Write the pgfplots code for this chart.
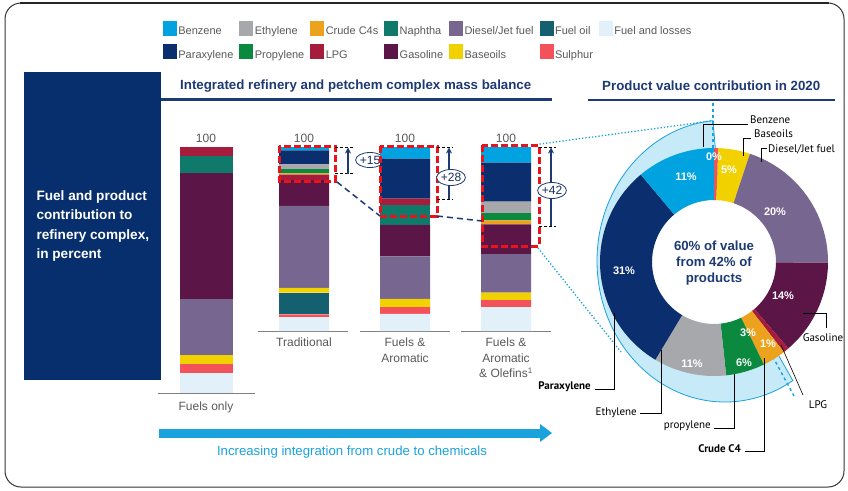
\documentclass[border=0pt]{standalone}
\usepackage{fontspec}
\setmainfont{Liberation Sans}
\newfontfamily\ptsans{PT Sans}
\usepackage{pgfplots}
\pgfplotsset{compat=1.18}
\usepackage{pgfplotstable}
\usetikzlibrary{arrows.meta,shapes.geometric}
\newcommand{\fs}[2]{\fontsize{#1}{#2}\selectfont}

\definecolor{cBen}{HTML}{00A3E0}
\definecolor{cPX}{HTML}{0B2F6E}
\definecolor{cEth}{HTML}{A7A8AB}
\definecolor{cPro}{HTML}{0B8A3F}
\definecolor{cC4}{HTML}{EDA21E}
\definecolor{cLPG}{HTML}{A51C3C}
\definecolor{cNap}{HTML}{0F7A6A}
\definecolor{cGas}{HTML}{5B1547}
\definecolor{cDie}{HTML}{77668F}
\definecolor{cBase}{HTML}{F1D100}
\definecolor{cFO}{HTML}{14606F}
\definecolor{cSul}{HTML}{F4525A}
\definecolor{cFL}{HTML}{E2F0FA}
\definecolor{navy}{HTML}{1E3A74}
\definecolor{boxblue}{HTML}{082F6D}
\definecolor{ltblue}{HTML}{1AA2DD}
\definecolor{bandc}{HTML}{C6EAF8}
\definecolor{labgray}{HTML}{595959}
\definecolor{redbox}{HTML}{E8141C}

\pgfplotstableread{
x FL Sul FO Base Die Gas Nap LPG C4 Pro Eth PX Ben
0.5 7.5 1.5 11.8 2.7 44.5 14 0 3 0.7 2.3 2.5 7.7 1.8
1.5 9.3 3.7 0 4.4 23.1 17.2 10.6 3.7 0 0 0 21.7 6.3
2.5 13 3.8 0 4 21 16.2 0 0 2.1 4.0 6.2 21.2 8.5
}\integrated

\pgfplotstableread{
x FL Sul Base Die Gas Nap LPG
0.5 8.2 3.4 3.8 23 51.2 6.7 3.7
}\fuelsonly

\pgfplotstableread{
product value
Top 0.6
Baseoils 4.5
Diesel 20
Gasoline 13.6
LPG 0.8
CrudeC4 3.3
Propylene 5.5
Ethylene 10.3
Paraxylene 30.3
Benzene 11.1
}\donutdata

\begin{document}
\begin{tikzpicture}[x=1pt,y=-1pt]
\useasboundingbox (0,0) rectangle (848,490);
\fill[white] (0,0) rectangle (848,490);
\draw[black!80, line width=1pt, rounded corners=16pt] (5,3) rectangle (844,487);
\draw[black!85, line width=1.6pt] (20,3) -- (829,3);

% left box
\fill[boxblue] (24,72) rectangle (161,380);
\node[anchor=west, text=white, font=\bfseries\fs{13.6}{19.3}, align=left] at (33,226) {Fuel and product\\contribution to\\refinery complex,\\in percent};

% titles
\node[anchor=west, text=navy, font=\bfseries\fs{13.3}{16}, inner sep=0pt] at (180,86) {Integrated refinery and petchem complex mass balance};
\draw[navy, line width=2.2pt] (161,99.5) -- (552,99.5);
\node[anchor=west, text=navy, font=\bfseries\fs{13.3}{16}, inner sep=0pt] at (602,86) {Product value contribution in 2020};
\draw[navy, line width=2.2pt] (588,100) -- (835,100);

% highlight band behind donut
\path[fill=bandc, draw=ltblue, line width=0.8pt] (725,261) -- ++({128*cos(95.4)},{-141*sin(95.4)}) arc[start angle=95.4, end angle=302, x radius=128pt, y radius=141pt] -- cycle;
\fill[white] (714,262) circle[radius=62pt];
\draw[ltblue, dotted, line width=1.3pt] (533,145) -- (711,121);
\draw[ltblue, dotted, line width=1.3pt] (538,248) -- (621,352);
\draw[ltblue, dashed, line width=1.4pt] (713,103) -- (713,150);
\draw[ltblue, dashed, line width=1.4pt] (767,346) -- (794,396);

% donut
\begin{axis}[at={(589pt,-412pt)}, anchor=south west, scale only axis, width=250pt, height=300pt,
  xmin=-125, xmax=125, ymin=-150, ymax=150, enlargelimits=false, hide axis, clip=false]
\pgfplotsextra{
  \gdef\cum{0}
  \foreach \i/\col in {0/cSul,1/cBase,2/cDie,3/cGas,4/cLPG,5/cC4,6/cPro,7/cEth,8/cPX,9/cBen}{
    \pgfplotstablegetelem{\i}{value}\of\donutdata
    \let\v\pgfplotsretval
    \pgfmathsetmacro\a{90-3.6*\cum}
    \pgfmathsetmacro\newcum{\cum+\v}
    \pgfmathsetmacro\b{90-3.6*\newcum}
    \xdef\cum{\newcum}
    \fill[\col] (axis cs:{114*cos(\a)},{114*sin(\a)}) arc[start angle=\a, end angle=\b, radius=114pt]
      -- (axis cs:{62*cos(\b)},{62*sin(\b)}) arc[start angle=\b, end angle=\a, radius=62pt] -- cycle;
  }
}
\end{axis}

% +15 ellipse (partly behind bar 3)
\node[ellipse, draw=navy, fill=white, line width=0.8pt, minimum width=26pt, minimum height=15pt, inner sep=0pt, text=navy!80!black, font=\fs{12}{14}] at (370,160) {+15};

% Fuels only axis
\begin{axis}[at={(156pt,-393pt)}, anchor=south west, scale only axis, width=100pt, height=246pt,
  xmin=0, xmax=1, ymin=0, ymax=100, enlargelimits=false, hide axis, clip=false,
  ybar stacked, bar width=53pt]
\addplot[fill=cFL, draw=none] table[x=x,y=FL]{\fuelsonly};
\addplot[fill=cSul, draw=none] table[x=x,y=Sul]{\fuelsonly};
\addplot[fill=cBase, draw=none] table[x=x,y=Base]{\fuelsonly};
\addplot[fill=cDie, draw=none] table[x=x,y=Die]{\fuelsonly};
\addplot[fill=cGas, draw=none] table[x=x,y=Gas]{\fuelsonly};
\addplot[fill=cNap, draw=none] table[x=x,y=Nap]{\fuelsonly};
\addplot[fill=cLPG, draw=none] table[x=x,y=LPG]{\fuelsonly};
\draw[gray, line width=0.8pt] (axis cs:0.02,0) -- (axis cs:0.99,0);
\node[anchor=base, inner sep=0pt, yshift=4.7pt, text=labgray, font=\fs{12}{14}] at (axis cs:0.5,100) {100};
\end{axis}

% integrated axis (with legend)
\begin{axis}[at={(253.5pt,-331pt)}, anchor=south west, scale only axis, width=303pt, height=184pt,
  xmin=0, xmax=3, ymin=0, ymax=100, enlargelimits=false, hide axis, clip=false,
  ybar stacked, bar width=50pt,
  legend columns=7, legend cell align=left,
  legend image code/.code={\fill[#1] (0pt,-3.5pt) rectangle (13pt,10.5pt);},
  legend style={at={(axis description cs:-0.2987,1.6848)}, anchor=north west, draw=none, fill=none,
    inner sep=0pt, outer sep=0pt, row sep=8pt, column sep=0pt,
    /tikz/every even column/.append style={column sep=4pt},
    font=\fs{11}{12}, nodes={inner xsep=2pt, inner ysep=0pt, text=labgray}}]
\addlegendimage{cBen}\addlegendentry{Benzene}
\addlegendimage{cEth}\addlegendentry{Ethylene}
\addlegendimage{cC4}\addlegendentry{Crude C4s}
\addlegendimage{cNap}\addlegendentry{Naphtha}
\addlegendimage{cDie}\addlegendentry{Diesel/Jet fuel}
\addlegendimage{cFO}\addlegendentry{Fuel oil}
\addlegendimage{cFL}\addlegendentry{Fuel and losses}
\addlegendimage{cPX}\addlegendentry{Paraxylene}
\addlegendimage{cPro}\addlegendentry{Propylene}
\addlegendimage{cLPG}\addlegendentry{LPG}
\addlegendimage{cGas}\addlegendentry{Gasoline}
\addlegendimage{cBase}\addlegendentry{Baseoils}
\addlegendimage{cSul}\addlegendentry{Sulphur}
\addplot[fill=cFL, draw=none] table[x=x,y=FL]{\integrated};
\addplot[fill=cSul, draw=none] table[x=x,y=Sul]{\integrated};
\addplot[fill=cFO, draw=none] table[x=x,y=FO]{\integrated};
\addplot[fill=cBase, draw=none] table[x=x,y=Base]{\integrated};
\addplot[fill=cDie, draw=none] table[x=x,y=Die]{\integrated};
\addplot[fill=cGas, draw=none] table[x=x,y=Gas]{\integrated};
\addplot[fill=cNap, draw=none] table[x=x,y=Nap]{\integrated};
\addplot[fill=cLPG, draw=none] table[x=x,y=LPG]{\integrated};
\addplot[fill=cC4, draw=none] table[x=x,y=C4]{\integrated};
\addplot[fill=cPro, draw=none] table[x=x,y=Pro]{\integrated};
\addplot[fill=cEth, draw=none] table[x=x,y=Eth]{\integrated};
\addplot[fill=cPX, draw=none] table[x=x,y=PX]{\integrated};
\addplot[fill=cBen, draw=none] table[x=x,y=Ben]{\integrated};
\draw[gray, line width=0.8pt] (axis cs:0.045,0) -- (axis cs:0.936,0);
\draw[gray, line width=0.8pt] (axis cs:1.054,0) -- (axis cs:1.946,0);
\draw[gray, line width=0.8pt] (axis cs:2.054,0) -- (axis cs:2.946,0);
\foreach \xx in {0.5,1.5,2.5}{
  \edef\tmp{\noexpand\node[anchor=base, inner sep=0pt, yshift=4.7pt, text=labgray, font=\noexpand\fs{12}{14}] at (axis cs:\xx,100) {100};}\tmp
}
\end{axis}

% category labels
\node[text=labgray, font=\fs{12}{15}] at (206,407) {Fuels only};
\node[text=labgray, font=\fs{12}{15}, anchor=north, align=center, inner sep=0pt] at (304,338) {Traditional};
\node[text=labgray, font=\fs{12}{15.5}, anchor=north, align=center, inner sep=0pt] at (405,338) {Fuels \&\\Aromatic};
\node[text=labgray, font=\fs{12}{15.5}, anchor=north, align=center, inner sep=0pt] at (506,338) {Fuels \&\\Aromatic\\\& Olefins\textsuperscript{1}};

% red dashed boxes
\begin{scope}[redbox, line width=3pt, dash pattern=on 7pt off 3pt]
\draw (279,146) rectangle (335,181);
\draw (380,146) rectangle (437,216);
\draw (482,145) rectangle (539,246);
\end{scope}
% connectors
\draw[navy, line width=1.5pt, dash pattern=on 6pt off 4pt] (337,182) -- (380,216);
\draw[navy, line width=1.5pt, dash pattern=on 6pt off 4pt] (437,216) -- (482,221);
% brackets
\begin{scope}[black, line width=0.8pt, densely dashed]
\draw (335,147) -- (353,147); \draw (335,173.5) -- (353,173.5);
\draw (437,147) -- (453,147); \draw (437,199) -- (453,199);
\draw (539,147) -- (556,147); \draw (539,226) -- (556,226);
\end{scope}
\begin{scope}[navy, line width=1.5pt, -{Stealth[length=6pt,width=6pt]}]
\draw (348,173.5) -- (348,147.5);
\draw (449,199) -- (449,147.5);
\draw (551,226) -- (551,147.5);
\end{scope}
\node[ellipse, draw=navy, fill=white, line width=0.8pt, minimum width=27pt, minimum height=16pt, inner sep=0pt, text=navy!80!black, font=\fs{12}{14}] at (451,177.5) {+28};
\node[ellipse, draw=navy, fill=white, line width=0.8pt, minimum width=27pt, minimum height=16pt, inner sep=0pt, text=navy!80!black, font=\fs{12}{14}] at (552,190.5) {+42};

% bottom arrow
\draw[ltblue, line width=9pt] (159,433) -- (542,433);
\fill[ltblue] (540,424) -- (552,433) -- (540,442) -- cycle;
\node[text=ltblue, font=\fs{13.2}{15}] at (352,452) {Increasing integration from crude to chemicals};

% donut labels
\begin{scope}[text=white, font=\bfseries\fs{11}{13}]
\node at (714,157) {0\%};
\node at (729,170) {5\%};
\node at (686,177) {11\%};
\node at (775,212) {20\%};
\node at (624,271) {31\%};
\node at (783,296) {14\%};
\node at (692,364) {11\%};
\node at (744,363) {6\%};
\node at (748,333) {3\%};
\node at (768,344) {1\%};
\end{scope}
\node[text=navy, font=\bfseries\fs{13.2}{16.3}, align=center] at (714,263) {60\% of value\\from 42\% of\\products};

% leaders
\begin{scope}[black, line width=0.6pt]
\draw (703,147) -- (703,124) -- (748,124);
\draw (743,156) -- (743,138) -- (751,138);
\draw (761,162) -- (761,148) -- (767,148);
\draw (803,313) -- (826,313) -- (826,328);
\draw (781,345) -- (803,395);
\draw (764,358) -- (764,451) -- (745,451);
\draw (734,374) -- (734,428) -- (714,428);
\draw (661,350) -- (661,413) -- (640,413);
\draw (614,313) -- (614,389) -- (595,389);
\end{scope}
\begin{scope}[font=\ptsans\fs{11}{13}, inner sep=0pt]
\node[anchor=west] at (750,120) {Benzene};
\node[anchor=west] at (754,134) {Baseoils};
\node[anchor=west] at (768,149) {Diesel/Jet fuel};
\node at (823,338) {Gasoline};
\node at (818,405) {LPG};
\node[anchor=east, font=\ptsans\bfseries\fs{11}{13}] at (741,449) {Crude C4};
\node[anchor=east] at (711,426) {propylene};
\node[anchor=east] at (637,413) {Ethylene};
\node[anchor=east, font=\ptsans\bfseries\fs{11}{13}] at (591,387) {Paraxylene};
\end{scope}
\end{tikzpicture}
\end{document}
